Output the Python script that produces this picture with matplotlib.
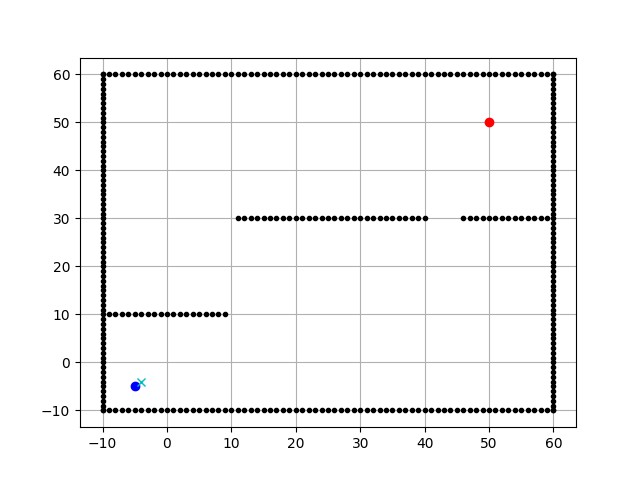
import matplotlib
matplotlib.use("Agg")
import matplotlib.pyplot as plt

# start / goal / first explored node
start = (-5, -5)
goal = (50, 50)
visited_x = [-4]
visited_y = [-4]

# obstacle walls as (x0, x1, y0, y1), one point per grid cell
walls = [
    (-10, 60, -10, -10),
    (60, 60, -10, 60),
    (-10, 60, 60, 60),
    (-10, -10, -10, 60),
    (-9, 9, 10, 10),
    (11, 40, 30, 30),
    (46, 59, 30, 30),
]

ox, oy = [], []
for x0, x1, y0, y1 in walls:
    for x in range(x0, x1 + 1):
        for y in range(y0, y1 + 1):
            ox.append(x)
            oy.append(y)

plt.figure(figsize=(6.4, 4.8), dpi=100)
plt.plot(ox, oy, ".k")
plt.plot(start[0], start[1], "ob")
plt.plot(goal[0], goal[1], "or")
plt.plot(visited_x, visited_y, "xc")
plt.grid(True)
plt.savefig("out.png")
